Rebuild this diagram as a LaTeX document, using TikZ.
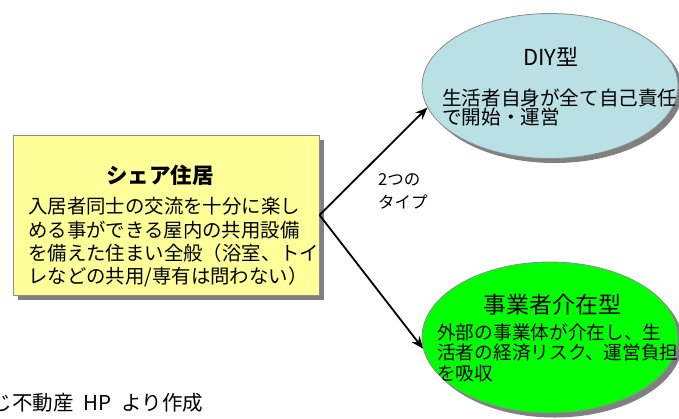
\documentclass[tikz,border=0pt]{standalone}
\usepackage{fontspec}
\setmainfont{Noto Sans CJK JP}
\usetikzlibrary{shapes.geometric,arrows.meta,shadows}
\definecolor{boxyellow}{HTML}{FFFF99}
\definecolor{diyblue}{HTML}{B9E0E4}
\definecolor{greenfill}{HTML}{00FF00}
\definecolor{shadowgray}{HTML}{808080}
\definecolor{edgegray}{HTML}{8C8C8C}
\begin{document}
\begin{tikzpicture}[x=1pt,y=-1pt,
  shad/.style={general shadow={fill=shadowgray, shadow xshift=4.5pt, shadow yshift=-4.5pt}},
  sharebox/.style={draw=edgegray, line width=1pt, fill=boxyellow, minimum width=306pt, minimum height=160pt, inner sep=0pt, shad},
  typeell/.style={ellipse, draw=edgegray, line width=0.8pt, minimum width=256pt, inner sep=0pt, shad},
  txt/.style={inner sep=0pt, align=left, anchor=west},
  link/.style={-{Stealth[length=12pt,width=10pt]}, line width=1.8pt}
]
\useasboundingbox (0,0) rectangle (679,418);
\node[sharebox] (box) at (166,215) {};
\node[font=\fontsize{21.5}{24}\selectfont\bfseries, inner sep=0pt] (boxtitle) at (160,175) {シェア住居};
\node[txt, font=\fontsize{19.4}{23.3}\selectfont] (boxbody) at (28,242.5) {入居者同士の交流を十分に楽し\\める事ができる屋内の共用設備\\を備えた住まい全般（浴室、トイ\\レなどの共用/専有は問わない）};

\node[typeell, fill=diyblue, minimum height=145pt] (diy) at (550,86) {};
\node[font=\fontsize{22}{24}\selectfont, inner sep=0pt] (diytitle) at (551,57) {DIY型};
\node[txt, font=\fontsize{19.6}{19.5}\selectfont] (diybody) at (442,107.5) {生活者自身が全て自己責任\\で開始・運営};

\node[typeell, fill=greenfill, minimum height=151pt] (biz) at (550,337.5) {};
\node[font=\fontsize{23}{24}\selectfont, inner sep=0pt] (biztitle) at (552,305) {事業者介在型};
\node[txt, font=\fontsize{18.7}{20.5}\selectfont] (bizbody) at (437,352.5) {外部の事業体が介在し、生\\活者の経済リスク、運営負担\\を吸収};

\node[txt, font=\fontsize{16.5}{23}\selectfont] (lbl) at (378,191.5) {2つの\\タイプ};

\draw[link] (box.east) -- (diy.190);
\draw[link] (box.east) -- (biz.185);

\node[anchor=west, inner sep=0pt, font=\fontsize{20.5}{22}\selectfont] (src) at (-49.5,403) {ひつじ不動産\hspace{10pt}HP\hspace{10pt}より作成};
\end{tikzpicture}
\end{document}
